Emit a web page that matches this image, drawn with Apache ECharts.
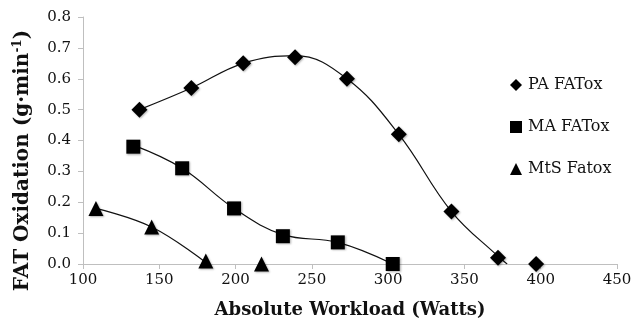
<!DOCTYPE html>
<html><head><meta charset="utf-8">
<script src="https://cdn.jsdelivr.net/npm/echarts@6/dist/echarts.min.js"></script>
<style>html,body{margin:0;padding:0;background:#fff}#c{width:632px;height:322px}</style>
</head><body><div id="c"></div>
<script>
// Measured points
const paX = [137, 171, 205, 239, 273, 307, 341.5, 372, 397];
const paY = [0.50, 0.57, 0.65, 0.67, 0.60, 0.42, 0.17, 0.02, 0.0];
const maX = [133, 165, 199, 231, 267, 303];
const maY = [0.38, 0.31, 0.18, 0.09, 0.07, 0.0];
const mtsX = [108.5, 145, 180.5, 217];
const mtsY = [0.18, 0.12, 0.01, 0.0];
// Trend curves
const paTrendX = [137, 171, 205, 239, 273, 307, 341.5, 372, 378];
const paTrendY = [0.50, 0.57, 0.65, 0.675, 0.60, 0.42, 0.17, 0.025, 0.0];
const maTrendX = [133, 165, 199, 231, 267, 303];
const maTrendY = [0.385, 0.31, 0.18, 0.095, 0.07, 0.0];
const mtsTrendX = [108.5, 145, 180.5];
const mtsTrendY = [0.18, 0.12, 0.005];
const xTicks = [100, 150, 200, 250, 300, 350, 400, 450];
const yTicks = [0, 0.1, 0.2, 0.3, 0.4, 0.5, 0.6, 0.7, 0.8];

const zip = (a, b) => a.map((v, i) => [v, b[i]]);
const serif = '"DejaVu Serif", "Liberation Serif", serif';
const shadow = {color: '#000', opacity: 1, shadowBlur: 2, shadowColor: 'rgba(0,0,0,0.3)', shadowOffsetX: 1, shadowOffsetY: 1};
const trend = (x, y) => ({type: 'line', data: zip(x, y), smooth: 0.4, showSymbol: false, symbol: 'none',
  lineStyle: {color: '#111', width: 1.2}, silent: true, z: 1});

const chart = echarts.init(document.getElementById('c'), null, {renderer: 'canvas'});
chart.setOption({
  animation: false,
  grid: {left: 83, right: 15, top: 17, bottom: 58, outerBoundsMode: 'none', containLabel: false},
  legend: {
    orient: 'vertical', left: 505, top: 72, itemGap: 26, itemWidth: 12, itemHeight: 12,
    itemStyle: {opacity: 1, shadowBlur: 0},
    textStyle: {fontFamily: serif, fontSize: 16, color: '#111', padding: [0, 0, 0, 1]},
    data: ['PA FATox', 'MA FATox', 'MtS Fatox']
  },
  xAxis: {
    type: 'value', min: 100, max: 450, interval: 50,
    name: 'Absolute Workload (Watts)', nameLocation: 'middle', nameGap: 37,
    nameTextStyle: {fontFamily: serif, fontSize: 18, fontWeight: 'bold', color: '#111'},
    axisLine: {lineStyle: {color: '#bfbfbf'}},
    axisTick: {show: true, length: 5, lineStyle: {color: '#bfbfbf'}},
    axisLabel: {fontFamily: serif, fontSize: 15, color: '#111', margin: 9},
    splitLine: {show: false}
  },
  yAxis: {
    type: 'value', min: 0, max: 0.8, interval: 0.1,
    name: 'FAT Oxidation (g·min{sup|-1})', nameLocation: 'middle', nameGap: 50, nameRotate: 90,
    nameTextStyle: {fontFamily: serif, fontSize: 20, fontWeight: 'bold', color: '#111', padding: [0, 40, 0, 0],
      rich: {sup: {fontFamily: serif, fontSize: 12, fontWeight: 'bold', color: '#111', verticalAlign: 'top', padding: [0, 0, 9, 0]}}},
    axisLine: {show: true, lineStyle: {color: '#bfbfbf'}},
    axisTick: {show: true, length: 5, lineStyle: {color: '#bfbfbf'}},
    axisLabel: {fontFamily: serif, fontSize: 15, color: '#111', margin: 12, formatter: v => v.toFixed(1)},
    splitLine: {show: false}
  },
  series: [
    trend(paTrendX, paTrendY),
    trend(maTrendX, maTrendY),
    trend(mtsTrendX, mtsTrendY),
    {name: 'PA FATox', type: 'scatter', symbol: 'diamond', symbolSize: 16, data: zip(paX, paY), itemStyle: shadow, z: 3},
    {name: 'MA FATox', type: 'scatter', symbol: 'rect', symbolSize: 14, data: zip(maX, maY), itemStyle: shadow, z: 3},
    {name: 'MtS Fatox', type: 'scatter', symbol: 'triangle', symbolSize: 15, data: zip(mtsX, mtsY), itemStyle: shadow, z: 3}
  ]
});
</script></body></html>
